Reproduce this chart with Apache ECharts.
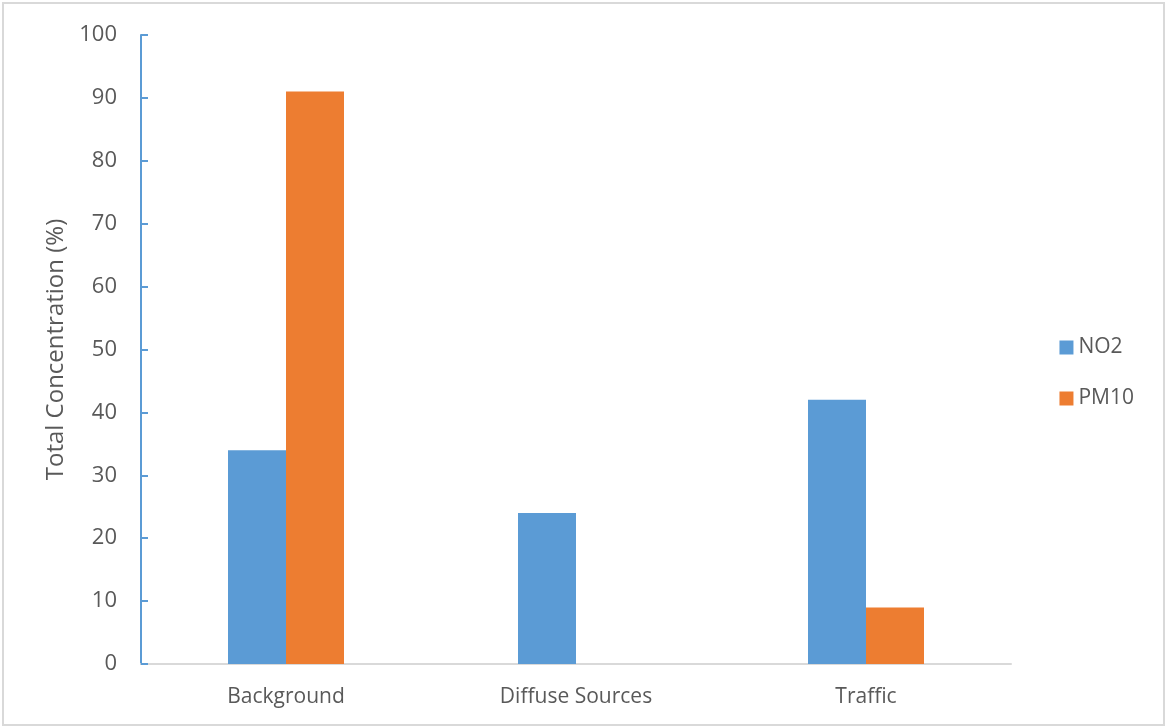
<!DOCTYPE html>
<html>
<head>
<meta charset="utf-8">
<script src="https://cdn.jsdelivr.net/npm/echarts@6/dist/echarts.min.js"></script>
<style>
  html, body { margin: 0; padding: 0; background: #fff; }
  #chart { position: absolute; left: 2px; top: 2px; width: 1159px; height: 720px; border: 2px solid #d9d9d9; }
</style>
</head>
<body>
<div id="chart"></div>
<script>
// 数据
const categories = ['Background', 'Diffuse Sources', 'Traffic']
const no2Values = [34, 24, 42]
const pm10Values = [91, 0, 9]
const seriesNames = ['NO2', 'PM10']

const chartDom = document.getElementById('chart')
const myChart = echarts.init(chartDom)
const font = '"Open Sans", "Noto Sans", sans-serif'
const options = {
  animation: false,
  grid: {
    left: 137,
    right: 152,
    top: 31,
    bottom: 60
  },
  legend: {
    orient: 'vertical',
    right: 24,
    top: 328,
    itemWidth: 14,
    itemHeight: 14,
    itemGap: 30,
    icon: 'rect',
    textStyle: {
      color: '#595959',
      fontSize: 21,
      fontFamily: font
    },
    data: seriesNames
  },
  xAxis: [
    {
      type: 'category',
      data: categories,
      axisLine: {
        lineStyle: { color: '#d9d9d9', width: 2 }
      },
      axisTick: { show: false },
      axisLabel: {
        color: '#595959',
        fontSize: 21,
        fontFamily: font,
        margin: 23
      }
    }
  ],
  yAxis: [
    {
      type: 'value',
      min: 0,
      max: 100,
      interval: 10,
      name: 'Total Concentration (%)',
      nameLocation: 'middle',
      nameGap: 72,
      nameTextStyle: {
        color: '#595959',
        fontSize: 24,
        fontFamily: font
      },
      axisLine: {
        show: true,
        lineStyle: { color: '#5b9bd5', width: 2 }
      },
      axisTick: {
        show: true,
        inside: true,
        length: 7,
        lineStyle: { color: '#5b9bd5', width: 2 }
      },
      axisLabel: {
        color: '#595959',
        fontSize: 22,
        fontFamily: font,
        margin: 24
      },
      splitLine: { show: false }
    }
  ],
  series: [
    {
      name: seriesNames[0],
      type: 'bar',
      data: no2Values,
      barWidth: '20%',
      barGap: '0%',
      itemStyle: { color: '#5b9bd5' }
    },
    {
      name: seriesNames[1],
      type: 'bar',
      data: pm10Values,
      barWidth: '20%',
      barGap: '0%',
      itemStyle: { color: '#ed7d31' }
    }
  ]
}
myChart.setOption(options)
</script>
</body>
</html>
